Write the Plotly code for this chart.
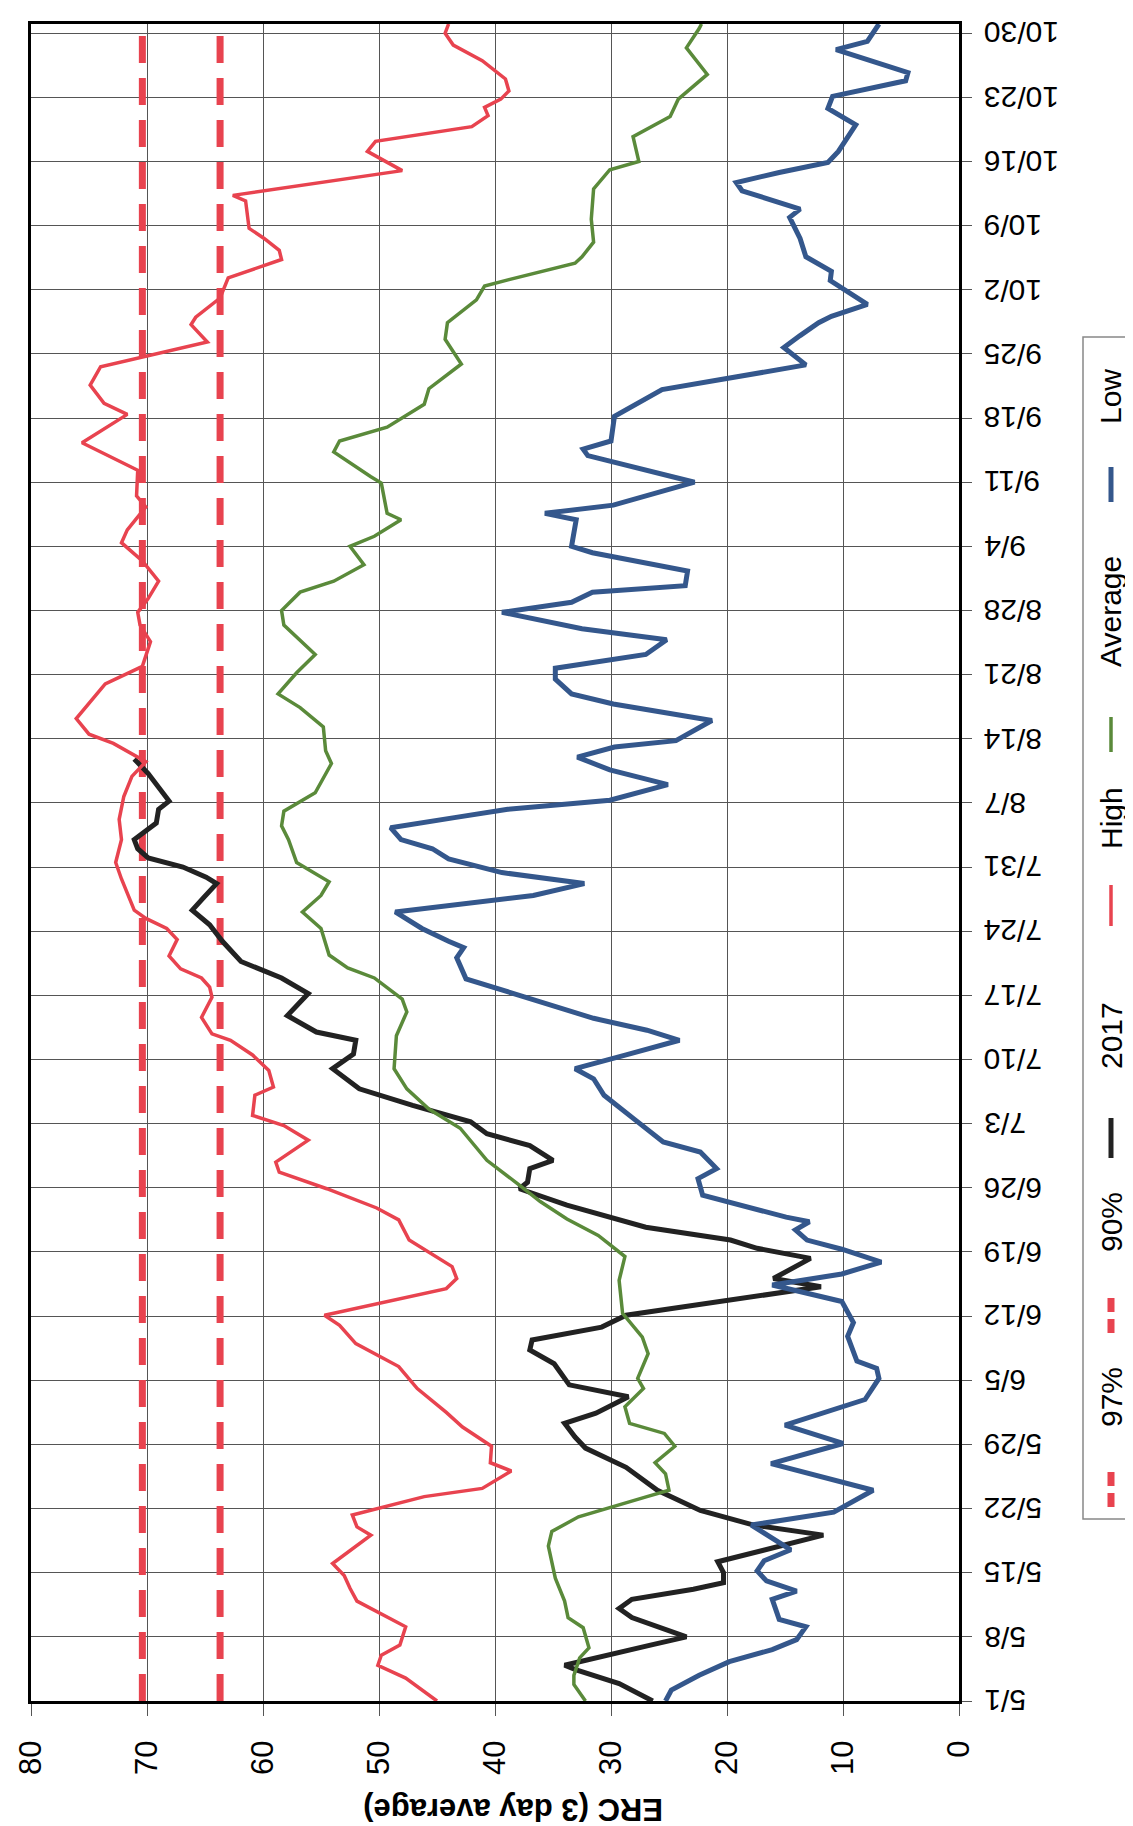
import pandas as pd
import plotly.graph_objects as go

START = "2017-05-01"

# Date axis ticks (weekly)
tick_days = list(range(0, 183, 7))
tick_labels = ["5/1", "5/8", "5/15", "5/22", "5/29", "6/5", "6/12", "6/19", "6/26",
               "7/3", "7/10", "7/17", "7/24", "7/31", "8/7", "8/14", "8/21", "8/28",
               "9/4", "9/11", "9/18", "9/25", "10/2", "10/9", "10/16", "10/23", "10/30"]

# Percentile thresholds
pct97 = 70.4
pct90 = 63.7

# Series: days since 5/1 and ERC values
high_days = [0, 2.5, 3.9, 5.0, 6.1, 8.1, 10.9, 12.3, 13.7, 15.0, 18.1, 19.0, 20.3, 22.3, 23.2,
             25.1, 26.0, 27.8, 29.9, 31.5, 34.1, 36.5, 39.0, 41.0, 42.1, 45.0, 46.1, 47.4,
             50.3, 52.5, 53.8, 55.9, 57.7, 58.8, 61.2, 62.8, 63.9, 66.1, 67.0, 68.8, 70.5,
             72.1, 72.8, 74.6, 76.8, 77.9, 78.9, 79.9, 81.3, 83.1, 84.3, 85.4, 86.3, 89.7,
             91.5, 94.0, 96.2, 98.7, 100.9, 102.5, 104.5, 105.5, 107.2, 111.0, 112.9, 115.6,
             117.4, 118.8, 120.3, 122.2, 124.4, 126.4, 127.8, 130.3, 131.5, 134.3, 137.3,
             140.4, 141.6, 143.6, 145.6, 148.3, 150.2, 151.0, 153.1, 155.3, 157.3, 158.3,
             159.6, 160.7, 163.7, 164.3, 167.0, 169.1, 170.2, 171.8, 173.0, 173.9, 174.8,
             175.7, 177.0, 179.0, 180.7, 182.0, 183.0]
high_vals = [45.0, 47.7, 50.1, 49.8, 48.2, 47.7, 51.9, 52.5, 53.0, 54.0, 50.7, 51.9, 52.3, 46.1, 41.1,
             38.6, 40.4, 40.3, 42.8, 44.2, 46.7, 48.3, 52.0, 53.4, 54.7, 44.2, 43.3, 43.7,
             47.4, 48.3, 50.2, 54.5, 58.6, 58.9, 56.1, 58.2, 60.9, 60.7, 59.1, 59.5, 60.9,
             62.8, 64.4, 65.3, 64.4, 64.6, 65.3, 67.1, 68.1, 67.4, 68.3, 70.1, 71.1, 72.2,
             72.7, 72.2, 72.4, 72.0, 71.3, 70.1, 72.9, 75.0, 76.1, 73.6, 70.4, 69.7,
             70.6, 70.8, 69.9, 69.0, 70.4, 72.2, 71.7, 70.1, 70.9, 70.8, 75.6,
             71.7, 73.7, 74.9, 74.0, 64.8, 66.2, 65.8, 63.7, 63.0, 58.4, 58.6,
             59.9, 61.2, 61.5, 62.6, 48.0, 51.0, 50.3, 42.0, 40.6, 40.9, 39.5,
             38.8, 39.1, 41.1, 43.6, 44.3, 44.0]

y2017_days = [0, 1.9, 3.4, 3.9, 6.1, 7.0, 9.1, 10.1, 11.1, 12.2, 12.9, 14.0, 15.2, 17.4, 18.1,
              19.2, 20.8, 23.0, 25.5, 27.6, 28.8, 30.3, 31.4, 33.2, 34.5, 36.8, 38.3, 39.4,
              40.8, 42.1, 43.2, 44.6, 45.2, 46.1, 48.3, 49.4, 50.3, 51.7, 52.6, 54.1, 55.9,
              56.6, 58.1, 59.0, 60.6, 61.9, 63.2, 65.0, 66.8, 69.0, 70.6, 72.1, 73.0, 74.8,
              77.2, 78.9, 80.7, 82.9, 84.7, 86.3, 87.7, 89.2, 89.9, 91.0, 92.0, 93.0, 94.0,
              95.8, 97.3, 98.2, 101.2, 102.8]
y2017_vals = [26.4, 29.3, 33.0, 34.0, 26.6, 23.5, 28.2, 29.3, 28.2, 22.9, 20.3, 20.3, 20.8, 13.6, 11.7,
              17.7, 22.3, 26.0, 28.7, 32.2, 33.1, 34.0, 31.3, 28.5, 33.6, 34.9, 37.0, 36.8,
              30.8, 28.7, 22.5, 15.1, 11.9, 16.0, 12.8, 17.4, 19.7, 27.0, 29.7, 33.8, 37.9,
              37.2, 37.0, 35.0, 37.0, 40.7, 42.1, 47.1, 51.7, 54.0, 52.2, 52.0, 55.4, 57.9,
              56.1, 58.4, 61.9, 63.5, 64.6, 66.1, 65.1, 64.0, 64.9, 66.9, 69.9, 70.8, 71.1,
              69.2, 69.0, 68.1, 69.9, 71.1]

avg_days = [0, 1.8, 2.8, 4.7, 5.8, 8.0, 9.1, 10.9, 13.4, 16.9, 18.5, 20.1, 22.3, 23.0, 24.8,
            26.0, 27.8, 29.2, 30.3, 32.1, 34.1, 35.2, 37.9, 39.7, 42.3, 45.9, 48.5, 50.8,
            52.6, 54.5, 56.3, 59.0, 62.5, 64.6, 66.8, 69.0, 72.6, 75.2, 76.6, 78.9, 80.0,
            81.4, 84.3, 86.1, 87.9, 89.4, 91.5, 94.0, 95.5, 97.1, 99.1, 102.3, 103.7, 106.3,
            108.4, 109.9, 112.2, 114.2, 117.4, 119.0, 121.0, 122.2, 124.0, 126.0, 127.1,
            128.9, 129.6, 132.9, 133.6, 136.3, 137.5, 139.0, 141.5, 143.2, 145.9, 148.6,
            150.4, 152.9, 154.4, 155.1, 156.9, 157.6, 159.2, 161.7, 165.0, 167.1, 168.0,
            170.7, 172.9, 174.8, 177.5, 180.4, 182.5, 183.0]
avg_vals = [32.2, 33.2, 33.2, 32.7, 31.9, 32.4, 33.7, 34.0, 34.8, 35.4, 35.1, 32.8, 26.9, 25.0, 25.3,
            26.2, 24.5, 25.4, 28.4, 28.8, 27.2, 27.7, 26.8, 27.3, 29.0, 29.3, 28.8, 31.1,
            33.8, 36.1, 37.9, 40.7, 43.0, 45.7, 47.6, 48.7, 48.5, 47.6, 48.0, 50.4, 52.7,
            54.3, 55.0, 56.6, 55.0, 54.3, 57.1, 57.8, 58.4, 58.2, 55.5, 54.1, 54.6, 54.8,
            56.8, 58.7, 57.1, 55.5, 58.2, 58.4, 56.8, 53.9, 51.3, 52.5, 50.4,
            48.1, 49.3, 49.8, 50.7, 53.9, 53.4, 49.3, 46.1, 45.7, 42.9, 44.3,
            44.1, 41.6, 40.9, 38.8, 33.1, 32.5, 31.5, 31.7, 31.5, 30.1, 27.6,
            28.1, 24.9, 24.2, 21.7, 23.5, 22.4, 22.2]

low_days = [0, 1.2, 2.8, 4.3, 5.6, 6.7, 8.1, 8.9, 11.1, 12.0, 13.1, 14.2, 15.3, 16.5, 19.2, 20.6,
            23.0, 25.9, 28.1, 30.1, 32.9, 35.2, 36.3, 37.1, 39.8, 41.3, 43.6, 45.4, 46.6, 47.9,
            49.3, 50.3, 51.4, 52.3, 52.8, 54.1, 55.2, 57.0, 58.1, 59.9, 61.0, 63.5, 66.1, 67.9,
            69.0, 70.5, 72.1, 73.2, 74.5, 77.0, 78.8, 81.1, 82.2, 82.9, 84.3, 86.1, 87.9, 89.2,
            90.4, 91.9, 93.0, 94.0, 95.3, 96.4, 97.3, 98.3, 100.0, 101.6, 103.0, 104.1, 104.8,
            107.0, 108.8, 109.9, 111.5, 112.7, 114.2, 115.8, 117.0, 118.8, 119.9, 121.0, 121.7,
            123.3, 125.3, 126.0, 128.9, 129.6, 130.5, 133.0, 135.9, 136.6, 137.5, 140.2, 143.1,
            145.8, 147.7, 149.0, 150.4, 151.1, 152.4, 155.0, 156.0, 157.6, 159.6, 161.9, 162.8,
            164.8, 165.7, 166.8, 167.9, 169.1, 172.0, 173.8, 175.1, 176.8, 177.7, 180.2, 181.1,
            183.0]
low_vals = [25.3, 24.8, 22.4, 19.8, 16.1, 14.0, 13.2, 15.5, 16.1, 14.0, 16.6, 17.4, 16.8, 14.5, 17.9, 10.8,
            7.4, 16.2, 10.0, 15.0, 8.1, 6.9, 7.1, 8.8, 9.6, 9.1, 10.1, 16.1, 10.1, 6.7,
            10.1, 13.1, 14.1, 12.9, 14.9, 18.6, 22.1, 22.5, 20.9, 22.3, 25.5, 28.0, 30.6, 31.5,
            33.1, 28.7, 24.1, 26.9, 31.5, 37.9, 42.5, 43.3, 42.7, 44.0, 46.3, 48.6, 36.7, 32.3,
            39.4, 44.0, 45.4, 48.1, 49.0, 43.5, 38.9, 30.1, 25.1, 30.1, 32.9, 29.7, 24.4,
            21.3, 29.8, 33.4, 34.8, 34.8, 27.0, 25.2, 32.5, 39.4, 33.4, 31.6, 23.6,
            23.4, 31.6, 33.4, 33.0, 35.7, 29.8, 22.8, 32.0, 32.4, 30.0, 29.7, 25.6,
            13.2, 15.1, 13.7, 12.1, 11.0, 7.9, 11.1, 11.0, 13.2, 13.7, 14.6, 13.7,
            18.7, 19.2, 15.5, 11.3, 10.4, 8.9, 11.3, 10.9, 4.6, 4.4, 10.6, 7.9,
            6.9]


def to_dates(days):
    return pd.Timestamp(START) + pd.to_timedelta(pd.Series(days, dtype=float), unit="D")


RED = "#E8434F"
GREEN = "#5A8A3A"
BLUE = "#34578C"
BLACK = "#222222"
FONT = "Liberation Sans, Arial, sans-serif"

x_start = pd.Timestamp(START)
x_end = x_start + pd.Timedelta(days=183)
span = [x_start, x_end]

fig = go.Figure()
fig.add_trace(go.Scatter(x=[pct97, pct97], y=span, mode="lines", name="97%",
                         line=dict(color=RED, width=7, dash="27px,15px")))
fig.add_trace(go.Scatter(x=[pct90, pct90], y=span, mode="lines", name="90%",
                         line=dict(color=RED, width=7, dash="27px,15px")))
fig.add_trace(go.Scatter(x=y2017_vals, y=to_dates(y2017_days), mode="lines", name="2017",
                         line=dict(color=BLACK, width=5)))
fig.add_trace(go.Scatter(x=high_vals, y=to_dates(high_days), mode="lines", name="High",
                         line=dict(color=RED, width=3.5)))
fig.add_trace(go.Scatter(x=avg_vals, y=to_dates(avg_days), mode="lines", name="Average",
                         line=dict(color=GREEN, width=3.5)))
fig.add_trace(go.Scatter(x=low_vals, y=to_dates(low_days), mode="lines", name="Low",
                         line=dict(color=BLUE, width=5)))

# plot area in pixels
L, R, T, B = 23, 951, 16, 1693
W, H = 1133, 1826
pw, ph = R - L, B - T


def px_x(x):
    return (x - L) / pw


def px_y(y):
    return (B - y) / ph


tick_dates = [x_start + pd.Timedelta(days=d) for d in tick_days]

fig.update_layout(
    width=W, height=H,
    margin=dict(l=L, r=W - R, t=T, b=H - B, autoexpand=False),
    paper_bgcolor="white", plot_bgcolor="white",
    showlegend=False,
    font=dict(family=FONT, size=30, color="black"),
    xaxis=dict(range=[80, 0], tick0=0, dtick=10, showgrid=True, gridcolor="#555555",
               gridwidth=1, zeroline=False, showline=True, linecolor="black", linewidth=3,
               mirror=True, ticks="outside", ticklen=12, tickcolor="#555555",
               tickangle=-90, tickfont=dict(size=31), ticklabelstandoff=12,
               automargin=False),
    yaxis=dict(type="date", range=span, tickvals=tick_dates, showticklabels=False,
               side="right", showgrid=True, gridcolor="#555555", gridwidth=1,
               zeroline=False, showline=True, linecolor="black", linewidth=3, mirror=True,
               ticks="outside", ticklen=10, tickcolor="#555555", automargin=False),
)

# Date tick labels, upside down as in the rotated original
for d, lab in zip(tick_dates, tick_labels):
    fig.add_annotation(text=lab, xref="paper", yref="y", x=px_x(974), y=d,
                       showarrow=False, textangle=180, xanchor="left", yanchor="middle",
                       font=dict(size=30, family=FONT, color="black"))

# Axis title (upside down, as in the rotated original)
fig.add_annotation(text="<b>ERC (3 day average)</b>", xref="paper", yref="paper",
                   x=px_x(505), y=px_y(1802), showarrow=False, textangle=180,
                   font=dict(size=31, family=FONT, color="black"),
                   xanchor="center", yanchor="middle")

# Legend (drawn rotated)
legend_names = ["97%", "90%", "2017", "High", "Average", "Low"]
legend_colors = [RED, RED, BLACK, RED, GREEN, BLUE]
legend_widths = [7, 7, 5, 3.5, 3.5, 5]
legend_dash = ["14px,7px", "14px,7px", "solid", "solid", "solid", "solid"]
legend_sym = [(1458, 1499), (1284, 1325), (1110, 1150), (877, 918), (709, 744), (459, 494)]
legend_txt = [1389, 1214, 1028, 810, 604, 389]
LX = 1103

fig.add_shape(type="rect", xref="paper", yref="paper",
              x0=px_x(1075), x1=px_x(1130), y0=px_y(1511), y1=px_y(329),
              line=dict(color="#888888", width=1.5), fillcolor="white")
for name, col, w, dsh, (s0, s1), ty in zip(legend_names, legend_colors, legend_widths,
                                           legend_dash, legend_sym, legend_txt):
    fig.add_shape(type="line", xref="paper", yref="paper",
                  x0=px_x(LX), x1=px_x(LX), y0=px_y(s1), y1=px_y(s0),
                  line=dict(color=col, width=w, dash=dsh))
    fig.add_annotation(text=name, xref="paper", yref="paper", x=px_x(LX), y=px_y(ty),
                       showarrow=False, textangle=-90, xanchor="center", yanchor="middle",
                       font=dict(size=30, family=FONT, color="black"))

fig.write_html("out.html")
